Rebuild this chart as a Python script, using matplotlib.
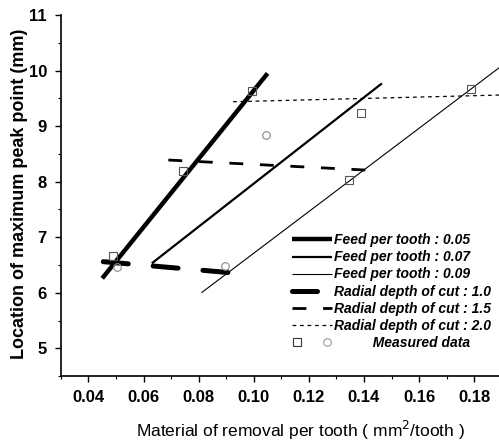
import matplotlib.pyplot as plt
from matplotlib.lines import Line2D
from matplotlib.legend_handler import HandlerTuple
from matplotlib.ticker import MultipleLocator

plt.rcParams['font.family'] = ['Liberation Sans', 'DejaVu Sans']

# fitted lines: (x start, x end), (y start, y end)
feed_labels = ['Feed per tooth : 0.05', 'Feed per tooth : 0.07', 'Feed per tooth : 0.09']
feed_x = [(0.045, 0.105), (0.063, 0.1465), (0.081, 0.189)]
feed_y = [(6.26, 9.95), (6.53, 9.77), (6.0, 10.05)]

radial_labels = ['Radial depth of cut : 1.0', 'Radial depth of cut : 1.5', 'Radial depth of cut : 2.0']
radial_x = [(0.0454, 0.094), (0.069, 0.1405), (0.0925, 0.189)]
radial_y = [(6.56, 6.35), (8.39, 8.21), (9.44, 9.56)]

# measured data
sq_x = [0.049, 0.0742, 0.0995, 0.139, 0.1344, 0.1787]
sq_y = [6.66, 8.2, 9.64, 9.23, 8.03, 9.67]
ci_x = [0.0505, 0.1045, 0.0894]
ci_y = [6.47, 8.84, 6.49]

fig = plt.figure(figsize=(4.99, 4.44), dpi=100)
ax = fig.add_axes([0.122, 0.153, 0.878, 0.813])

feed_lw = [3.2, 1.6, 0.8]
radial_lw = [3.6, 2.0, 0.9]
radial_dash = [(5, 5), (5, 6), (3, 3)]

handles = []
for i in range(3):
    h, = ax.plot(feed_x[i], feed_y[i], color='black', lw=feed_lw[i], solid_capstyle='butt')
    handles.append(h)
for i in range(3):
    h, = ax.plot(radial_x[i], radial_y[i], color='black', lw=radial_lw[i],
                 dashes=radial_dash[i], dash_capstyle='round' if i == 0 else 'butt')
    handles.append(h)

ax.plot(sq_x, sq_y, ls='none', marker='s', ms=5.5, mfc='none', mec='#555555', mew=0.8)
ax.plot(ci_x, ci_y, ls='none', marker='o', ms=5.5, mfc='none', mec='#888888', mew=0.8)

sq_h = Line2D([], [], ls='none', marker='s', ms=5.5, mfc='none', mec='#333333', mew=0.8)
ci_h = Line2D([], [], ls='none', marker='o', ms=5.5, mfc='none', mec='#999999', mew=0.8)

labels = feed_labels + radial_labels + ['          Measured data']
leg = ax.legend(handles + [(sq_h, ci_h)], labels, loc='lower right',
                bbox_to_anchor=(1.0, 0.05), frameon=False, handlelength=2.9,
                handletextpad=0.1, labelspacing=0.22, borderpad=0.1,
                handler_map={tuple: HandlerTuple(ndivide=None, pad=1.5)},
                prop={'size': 10, 'style': 'italic', 'weight': 'bold'})

ax.set_xlim(0.03, 0.189)
ax.set_ylim(4.5, 11)
ax.xaxis.set_minor_locator(MultipleLocator(0.01))
ax.yaxis.set_minor_locator(MultipleLocator(0.5))
ax.set_xticks([0.04, 0.06, 0.08, 0.10, 0.12, 0.14, 0.16, 0.18])
ax.set_xticklabels(['0.04', '0.06', '0.08', '0.10', '0.12', '0.14', '0.16', '0.18'])
ax.set_yticks([5, 6, 7, 8, 9, 10, 11])
ax.tick_params(which='major', direction='out', length=4, width=1, labelsize=12, pad=6)
ax.tick_params(which='minor', direction='out', length=2, width=0.8)
for lab in ax.get_xticklabels() + ax.get_yticklabels():
    lab.set_fontweight('bold')

ax.spines['top'].set_visible(False)
ax.spines['right'].set_visible(False)
ax.spines['left'].set_linewidth(1.2)
ax.spines['bottom'].set_linewidth(1.2)

ax.set_xlabel('Material of removal per tooth ( mm$^2$/tooth )', fontsize=12.5)
ax.set_ylabel('Location of maximum peak point (mm)', fontsize=13, fontweight='bold')
ax.xaxis.set_label_coords(0.548, -0.12)
ax.yaxis.set_label_coords(-0.074, 0.505)

fig.savefig('out.png', dpi=100)
